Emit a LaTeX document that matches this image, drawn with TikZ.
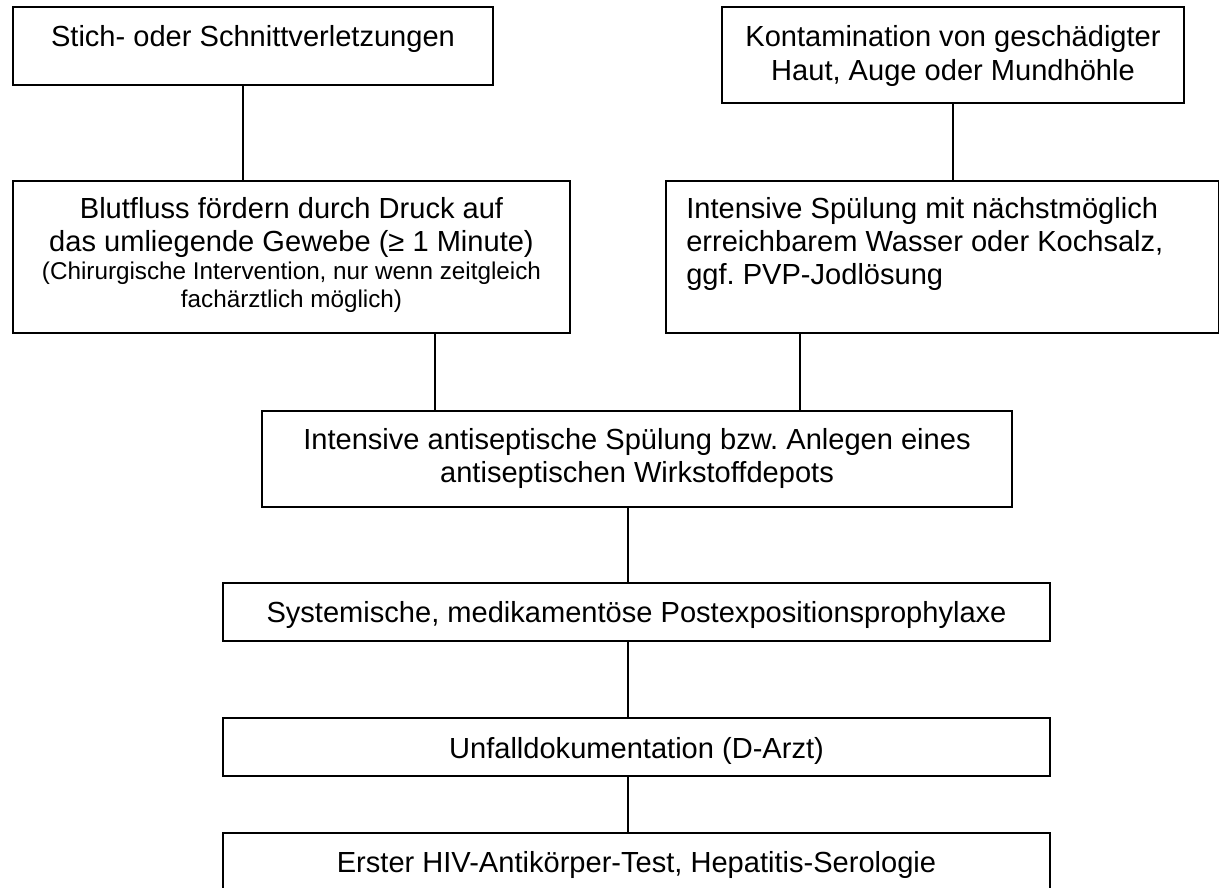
\documentclass[tikz,border=0pt]{standalone}
\usepackage{fontspec}
\setmainfont{Liberation Sans}
\newcommand{\fbig}{\fontsize{21.8pt}{25.1pt}\selectfont}
\newcommand{\fsmall}{\fontsize{18.2pt}{21pt}\selectfont}
\frenchspacing
\begin{document}
\begin{tikzpicture}[x=0.75pt,y=-0.75pt,
  box/.style={draw=black, line width=1.05pt, inner sep=0pt, rectangle},
  link/.style={draw=black, line width=0.85pt},
  txt/.style={inner sep=0pt, anchor=base, font=\fbig},
  ]
\useasboundingbox (0,0) rectangle (1220,888);

% boxes
\node[box, minimum width=360pt,    minimum height=58.5pt]  (b1) at (253,46) {};
\node[box, minimum width=346.5pt,  minimum height=72pt]    (b2) at (953,55) {};
\node[box, minimum width=417.75pt, minimum height=114pt]   (b3) at (291.5,257) {};
\node[box, minimum width=414.4pt,  minimum height=114pt]   (b4) at (942.25,257) {};
\node[box, minimum width=562.5pt,  minimum height=72pt]    (b5) at (637,459) {};
\node[box, minimum width=620.25pt, minimum height=43.5pt]  (b6) at (636.5,612) {};
\node[box, minimum width=620.25pt, minimum height=43.5pt]  (b7) at (636.5,747) {};
\node[box, minimum width=620.25pt, minimum height=50.25pt] (b8) at (636.5,866.5) {};

% texts
\node[txt] (t1) at (253,47) {Stich- oder Schnittverletzungen};
\node[txt] (t2) at (953,47) {\begin{tabular}[t]{@{}c@{}}Kontamination von geschädigter\\Haut, Auge oder Mundhöhle\end{tabular}};
\node[txt] (t3) at (291.5,218) {\begin{tabular}[t]{@{}c@{}}Blutfluss fördern durch Druck auf\\das umliegende Gewebe (≥ 1 Minute)\\[-4.1pt]{\fsmall (Chirurgische Intervention, nur wenn zeitgleich}\\[-4.1pt]{\fsmall fachärztlich möglich)}\end{tabular}};
\node[txt, anchor=base west] (t4) at (686,218) {\begin{tabular}[t]{@{}l@{}}Intensive Spülung mit nächstmöglich\\erreichbarem Wasser oder Kochsalz,\\ggf. PVP-Jodlösung\end{tabular}};
\node[txt] (t5) at (637,449) {\begin{tabular}[t]{@{}c@{}}Intensive antiseptische Spülung bzw. Anlegen eines\\antiseptischen Wirkstoffdepots\end{tabular}};
\node[txt] (t6) at (636.5,622.5) {Systemische, medikamentöse Postexpositionsprophylaxe};
\node[txt] (t7) at (636.5,758) {Unfalldokumentation (D-Arzt)};
\node[txt] (t8) at (636.5,872) {Erster HIV-Antikörper-Test, Hepatitis-Serologie};

% connector positions
\coordinate (x1) at (243,0);
\coordinate (x2) at (953,0);
\coordinate (x3) at (435,0);
\coordinate (x4) at (800,0);
\coordinate (x5) at (628,0);

\draw[link] (b1.south -| x1) -- (b3.north -| x1);
\draw[link] (b2.south -| x2) -- (b4.north -| x2);
\draw[link] (b3.south -| x3) -- (b5.north -| x3);
\draw[link] (b4.south -| x4) -- (b5.north -| x4);
\draw[link] (b5.south -| x5) -- (b6.north -| x5);
\draw[link] (b6.south -| x5) -- (b7.north -| x5);
\draw[link] (b7.south -| x5) -- (b8.north -| x5);
\end{tikzpicture}
\end{document}
